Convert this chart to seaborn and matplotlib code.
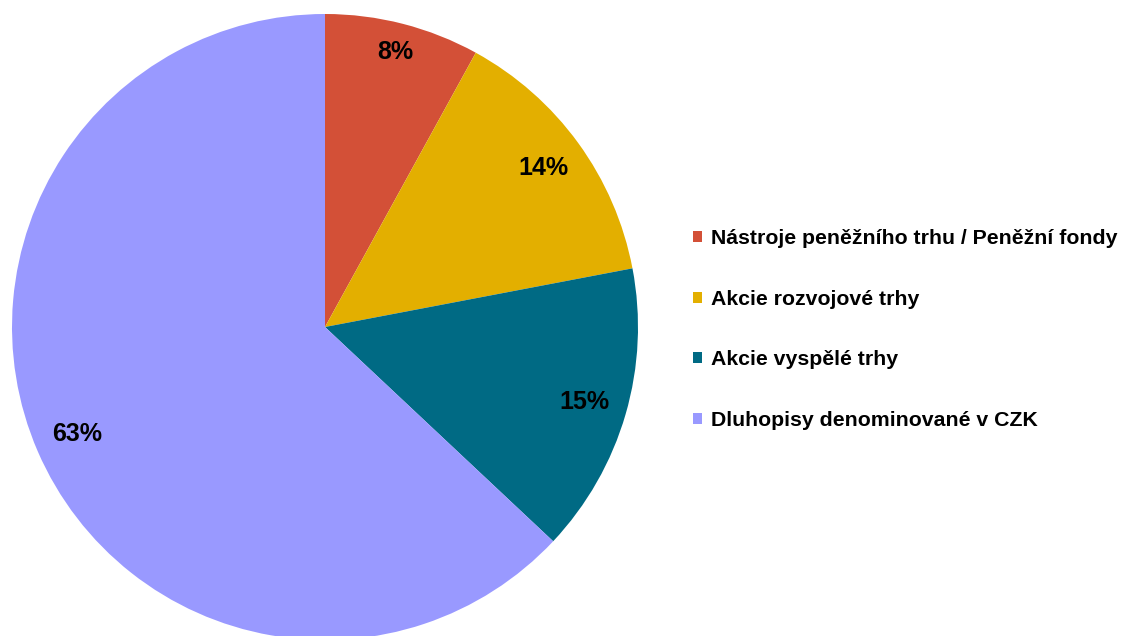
import matplotlib
matplotlib.use("Agg")
import matplotlib.pyplot as plt
import matplotlib.patches as mpatches
import seaborn as sns

categories = [
    "Nástroje peněžního trhu / Peněžní fondy",
    "Akcie rozvojové trhy",
    "Akcie vyspělé trhy",
    "Dluhopisy denominované v CZK",
]
shares = [8, 14, 15, 63]
colors = ["#D35037", "#E3AF00", "#006A84", "#9999FF"]

sns.set_theme(style="white")
plt.rcParams["font.family"] = ["Liberation Sans", "DejaVu Sans"]
plt.rcParams["text.color"] = "black"

W, H = 1122, 636
fig = plt.figure(figsize=(W / 100, H / 100), dpi=100)

cx, cy, r = 325, 327, 313
ax = fig.add_axes([(cx - r) / W, (H - cy - r) / H, 2 * r / W, 2 * r / H])
palette = sns.color_palette(colors)

wedges, _, autotexts = ax.pie(
    shares,
    colors=palette,
    startangle=90,
    counterclock=False,
    radius=1,
    autopct="%1.0f%%",
    pctdistance=0.862,
    wedgeprops=dict(linewidth=0),
    textprops=dict(fontsize=18, fontweight="bold", color="black"),
)
# the small slice label sits a bit further out in the original
x0, y0 = autotexts[0].get_position()
autotexts[0].set_position((x0 * 0.906 / 0.862, y0 * 0.906 / 0.862))

for w in wedges:
    w.set_clip_on(False)
ax.set_xlim(-1, 1)
ax.set_ylim(-1, 1)
ax.set_aspect("equal")
ax.axis("off")

handles = [mpatches.Patch(facecolor=c, edgecolor="none") for c in palette]
fig.legend(
    handles,
    categories,
    loc="center left",
    bbox_to_anchor=(693 / W, 1 - 329.5 / H),
    frameon=False,
    prop=dict(size=15.3, weight="bold"),
    labelcolor="black",
    handlelength=0.42,
    handleheight=0.42,
    handletextpad=0.42,
    labelspacing=1.96,
    borderpad=0,
    borderaxespad=0,
)

fig.savefig("out.png", dpi=100)
plt.close(fig)
